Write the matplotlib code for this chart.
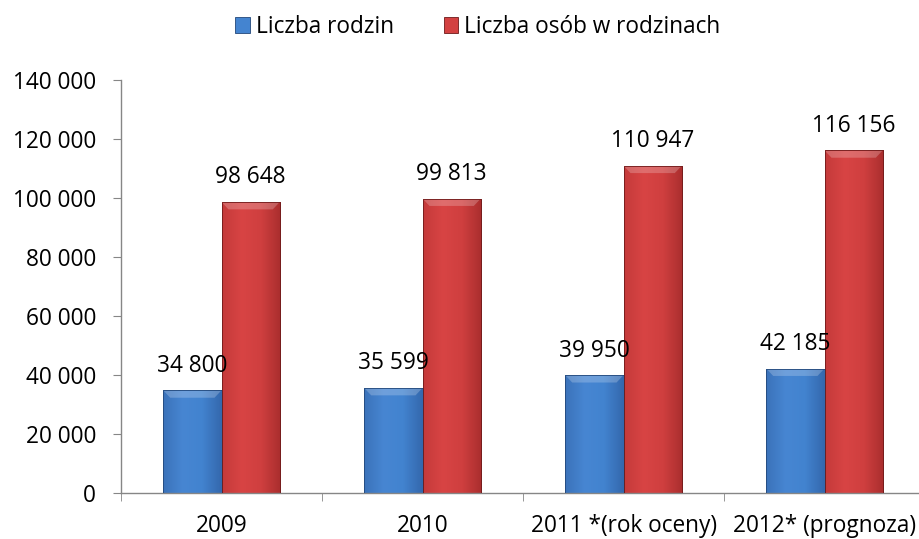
import matplotlib
matplotlib.use("Agg")
import matplotlib.pyplot as plt
import numpy as np
from matplotlib.colors import LinearSegmentedColormap

categories = ["2009", "2010", "2011 *(rok oceny)", "2012* (prognoza)"]
rodziny = [34800, 35599, 39950, 42185]
osoby = [98648, 99813, 110947, 116156]
series_names = ["Liczba rodzin", "Liczba osób w rodzinach"]
yticks = [0, 20000, 40000, 60000, 80000, 100000, 120000, 140000]

def fmt(v):
    return f"{v:,}".replace(",", " ")

FS = 16.3
plt.rcParams['font.family'] = ['Open Sans', 'DejaVu Sans']
fig = plt.figure(figsize=(9.19, 5.39), dpi=100)
ax = fig.add_axes([121/919, 1 - 493/539, (925-121)/919, (493-80)/539])

x = np.arange(len(categories))
w = 0.29
blue_cmap = LinearSegmentedColormap.from_list("b", ["#3b72ba", "#4786d2", "#4283cf", "#3468ad"])
red_cmap = LinearSegmentedColormap.from_list("r", ["#c53a3a", "#d84444", "#cf3f3f", "#aa2e2e"])
grad = np.linspace(0, 1, 64).reshape(1, -1)

def draw(xs, vals, cmap, edge, label):
    bars = ax.bar(xs, vals, w, color=cmap(0.5), edgecolor=edge, linewidth=0.6, label=label, zorder=2)
    for b in bars:
        x0, y0 = b.get_x(), b.get_y()
        bw, bh = b.get_width(), b.get_height()
        im = ax.imshow(grad, cmap=cmap, aspect="auto", extent=(x0, x0 + bw, y0, y0 + bh), zorder=2.5)
        im.set_clip_path(b)
        ax.fill([x0, x0 + bw, x0 + bw * 0.88, x0 + bw * 0.12],
                [y0 + bh, y0 + bh, y0 + bh - 2500, y0 + bh - 2500],
                color="white", alpha=0.22, zorder=2.6, lw=0)
        ax.plot([x0, x0, x0 + bw, x0 + bw], [y0, y0 + bh, y0 + bh, y0], color=edge, lw=0.6, zorder=2.7)
    return bars

b1 = draw(x - w / 2, rodziny, blue_cmap, "#23487a", series_names[0])
b2 = draw(x + w / 2, osoby, red_cmap, "#6e1a1a", series_names[1])

for xs, vals in ((x - w / 2, rodziny), (x + w / 2, osoby)):
    for xi, v in zip(xs, vals):
        ax.annotate(fmt(v), (xi, v), xytext=(0, 9), textcoords="offset points",
                    ha="center", va="bottom", fontsize=FS, color="#000000")

ax.set_xlim(-0.5, len(categories) - 0.5)
ax.set_ylim(0, 140000)
ax.set_yticks(yticks)
ax.set_yticklabels([fmt(v) for v in yticks], fontsize=FS)
ax.set_xticks(x)
ax.set_xticklabels(categories, fontsize=FS)
ax.xaxis.set_tick_params(length=0, pad=15)
ax.set_xticks(np.arange(-0.5, len(categories)), minor=True)
ax.tick_params(axis="x", which="minor", length=6, color="#868686", direction="out")
ax.tick_params(axis="y", length=6, color="#868686", direction="out", pad=12)
for s in ("top", "right"):
    ax.spines[s].set_visible(False)
for s in ("left", "bottom"):
    ax.spines[s].set_color("#868686")
    ax.spines[s].set_linewidth(1)

leg = fig.legend(handles=[b1, b2], labels=series_names, loc="center", bbox_to_anchor=(0.52, 1 - 27/539),
                 ncol=2, frameon=False, fontsize=FS, handlelength=0.65, handleheight=0.65,
                 handletextpad=0.25, columnspacing=2.2)

fig.savefig("out.png", dpi=100)
